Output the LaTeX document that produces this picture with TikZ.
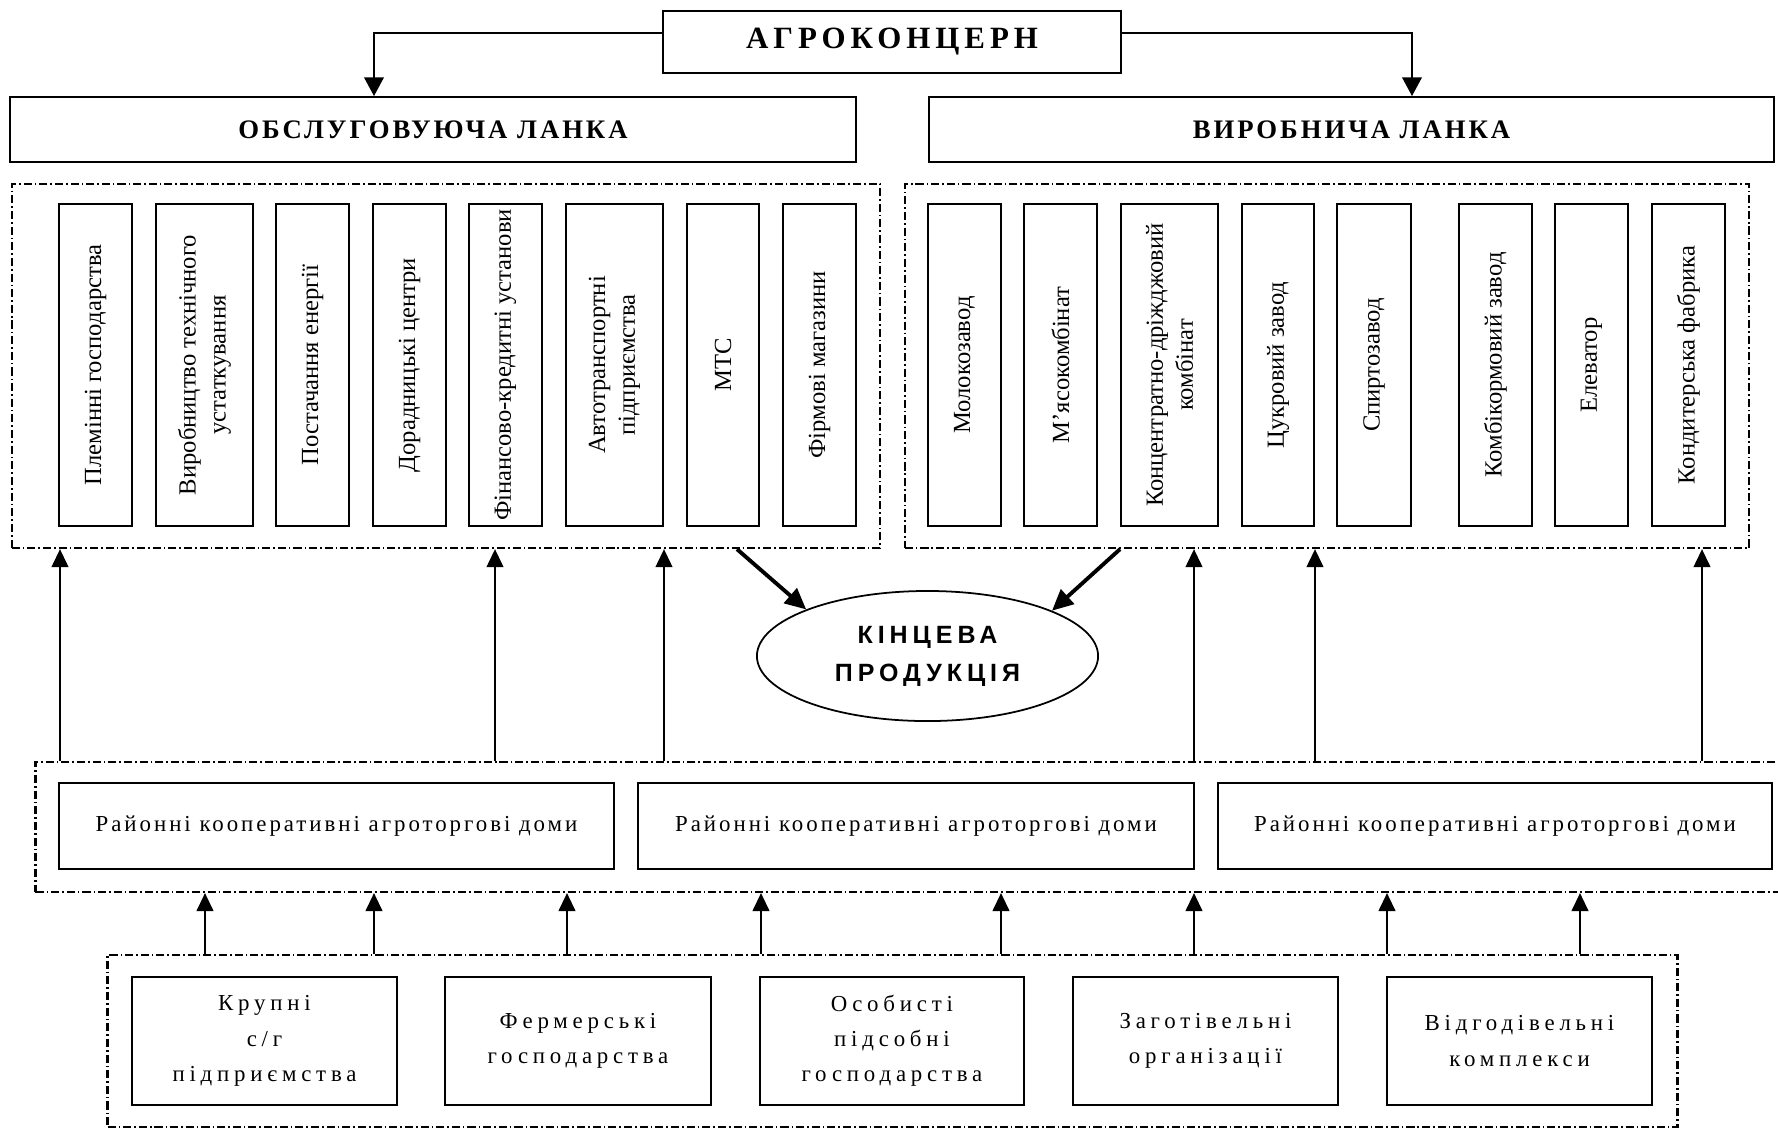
\documentclass[tikz,border=0pt]{standalone}
\usepackage{fontspec}
\setmainfont{Liberation Serif}
\newfontfamily\ttlfam[LetterSpace=16]{Liberation Serif}
\newfontfamily\hdfam[LetterSpace=11]{Liberation Serif}
\newfontfamily\midfam[LetterSpace=13]{Liberation Serif}
\newfontfamily\botfam[LetterSpace=21]{Liberation Serif}
\newfontfamily\ellfam[LetterSpace=20]{Liberation Sans}
\usetikzlibrary{arrows.meta,shapes.geometric}
\newcommand\ttlfont{\ttlfam\bfseries\fontsize{8.8}{10}\selectfont}
\newcommand\hdfont{\hdfam\bfseries\fontsize{7.6}{9}\selectfont}
\newcommand\vtfont{\rmfamily\fontsize{7}{8.5}\selectfont}
\newcommand\midfont{\midfam\fontsize{6.5}{8}\selectfont}
\newcommand\botfont{\botfam\fontsize{6.5}{10}\selectfont}
\newcommand\ellfont{\ellfam\bfseries\fontsize{7.1}{10.8}\selectfont}
% horizontal box: style, name, x1, y1, x2, y2, text (pixel coordinates)
\newcommand\rb[7]{\pgfmathsetmacro\rbw{(#5-#3)/100}\pgfmathsetmacro\rbh{(#6-#4)/100}%
  \node[#1,minimum width=\rbw cm,minimum height=\rbh cm] (#2) at ({(#3+#5)/2},{(#4+#6)/2}) {#7};}
% vertical box with rotated text
\newcommand\rv[7]{\pgfmathsetmacro\rbw{(#5-#3)/100}\pgfmathsetmacro\rbh{(#6-#4)/100}%
  \node[#1,rotate=90,minimum width=\rbh cm,minimum height=\rbw cm] (#2) at ({(#3+#5)/2},{(#4+#6)/2}) {#7};}
\tikzset{
  box/.style={draw,line width=0.55pt,inner sep=0pt,align=center},
  vtbox/.style={box,font=\vtfont},
  ddbox/.style={draw,line width=0.6pt,inner sep=0pt,dash pattern=on 2.3pt off 0.85pt on 0.45pt off 0.85pt},
  arr/.style={line width=0.4pt,-{Triangle[width=4.8pt,length=5.1pt]}},
  toparr/.style={line width=0.4pt,-{Triangle[width=5.6pt,length=5.3pt]}},
  tarr/.style={line width=1.1pt,-{Triangle[width=5.5pt,length=6pt]}},
}
\begin{document}
\begin{tikzpicture}[x=0.01cm,y=-0.01cm]
\useasboundingbox (0,0) rectangle (1778,1129);
\fill[white] (0,0) rectangle (1778,1129);
\clip (0,0) rectangle (1778,1129);

% top level
\rb{box,font=\ttlfont}{ttl}{663}{11}{1121}{73}{АГРОКОНЦЕРН}
\rb{box,font=\hdfont}{obs}{10}{97}{856}{162}{ОБСЛУГОВУЮЧА ЛАНКА}
\rb{box,font=\hdfont}{vir}{929}{97}{1774}{162}{ВИРОБНИЧА ЛАНКА}
\draw[toparr] (ttl.west |- 0,33) -| (obs.north -| 374,0);
\draw[toparr] (ttl.east |- 0,33) -| (vir.north -| 1412,0);

% containers
\rb{ddbox}{lc}{12}{184}{880}{548}{}
\rb{ddbox}{rc}{905}{184}{1749}{548}{}
\rb{ddbox}{mc}{36}{762}{1810}{892}{}
\rb{ddbox}{bc}{108}{955}{1677}{1127}{}

% service units
\rv{vtbox}{s1}{59}{204}{132}{526}{Племінні господарства}
\rv{vtbox}{s2}{156}{204}{253}{526}{Виробництво технічного\\устаткування}
\rv{vtbox}{s3}{276}{204}{349}{526}{Постачання енергії}
\rv{vtbox}{s4}{373}{204}{446}{526}{Дорадницькі центри}
\rv{vtbox}{s5}{469}{204}{542}{526}{Фінансово-кредитні установи}
\rv{vtbox}{s6}{566}{204}{663}{526}{Автотранспортні\\підприємства}
\rv{vtbox}{s7}{687}{204}{759}{526}{МТС}
\rv{vtbox}{s8}{783}{204}{856}{526}{Фірмові магазини}

% production units
\rv{vtbox}{p1}{928}{204}{1001}{526}{Молокозавод}
\rv{vtbox}{p2}{1024}{204}{1097}{526}{М’ясокомбінат}
\rv{vtbox}{p3}{1121}{204}{1218}{526}{Концентратно-дріжджовий\\комбінат}
\rv{vtbox}{p4}{1242}{204}{1314}{526}{Цукровий завод}
\rv{vtbox}{p5}{1337}{204}{1411}{526}{Спиртозавод}
\rv{vtbox}{p6}{1459}{204}{1532}{526}{Комбікормовий завод}
\rv{vtbox}{p7}{1555}{204}{1628}{526}{Елеватор}
\rv{vtbox}{p8}{1652}{204}{1725}{526}{Кондитерська фабрика}

% final product
\node[draw,ellipse,line width=0.5pt,minimum width=3.41cm,minimum height=1.3cm,inner sep=0pt,align=center,font=\ellfont] (ell) at (927.5,656) {КІНЦЕВА\\ПРОДУКЦІЯ};
\draw[tarr] (lc.south -| 737,0) -- (ell.159);
\draw[tarr] (rc.south -| 1120,0) -- (ell.20);

% trading houses
\rb{box,font=\midfont}{m1}{59}{783}{614}{869}{Районні кооперативні агроторгові доми}
\rb{box,font=\midfont}{m2}{638}{783}{1194}{869}{Районні кооперативні агроторгові доми}
\rb{box,font=\midfont}{m3}{1218}{783}{1772}{869}{Районні кооперативні агроторгові доми}

\foreach \x in {60,495,664} \draw[arr] (mc.north -| \x,0) -- (lc.south -| \x,0);
\foreach \x in {1194,1315,1702} \draw[arr] (mc.north -| \x,0) -- (rc.south -| \x,0);

% producers
\rb{box,font=\botfont}{b1}{132}{977}{397}{1105}{Крупні\\с/г\\підприємства}
\rb{box,font=\botfont}{b2}{445}{977}{711}{1105}{Фермерські\\господарства}
\rb{box,font=\botfont}{b3}{760}{977}{1024}{1105}{Особисті\\підсобні\\господарства}
\rb{box,font=\botfont}{b4}{1073}{977}{1338}{1105}{Заготівельні\\організації}
\rb{box,font=\botfont}{b5}{1387}{977}{1652}{1105}{Відгодівельні\\комплекси}

\foreach \x in {205,374,567,761,1001,1194,1387,1580} \draw[arr] (bc.north -| \x,0) -- (mc.south -| \x,0);
\end{tikzpicture}
\end{document}
